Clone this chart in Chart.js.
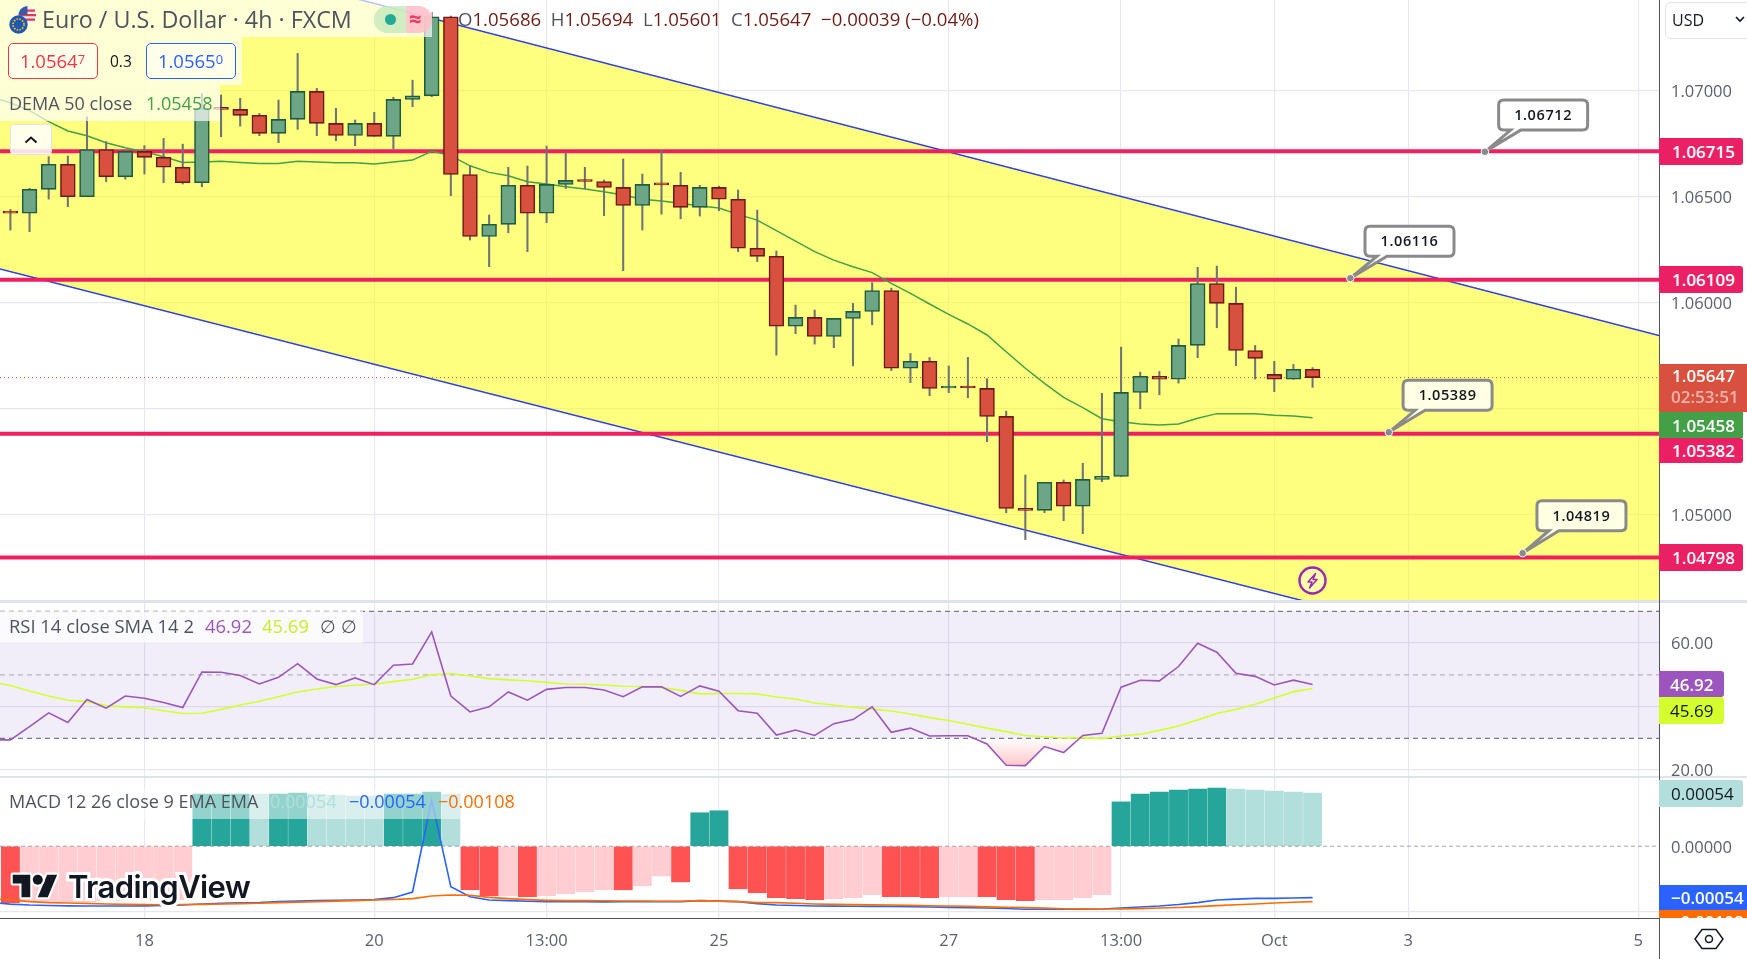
<!DOCTYPE html>
<html><head><meta charset="utf-8">
<script src="https://cdn.jsdelivr.net/npm/chart.js@4"></script>
<style>
html,body{margin:0;padding:0;background:#fff;overflow:hidden}
#root{position:relative;width:1747px;height:959px;overflow:hidden;font-family:"Open Sans",sans-serif}
canvas{position:absolute;left:0}
.a{position:absolute;white-space:nowrap}
.bg{position:absolute;background:rgba(255,255,255,.68)}
.badge{position:absolute;left:1659px;color:#fff;font-size:17px;font-weight:600;padding-left:13px;box-sizing:border-box;display:flex;align-items:center;border-radius:0 3px 3px 0}
.leg{color:#50535e;font-size:18px;line-height:22px}
sup.s{font-size:70%;vertical-align:baseline;position:relative;top:-4px}
.l{color:#50535e}.v{color:#6e1d15}
</style></head>
<body><div id="root">
<canvas id="cMain" width="1747" height="600" style="top:0"></canvas>
<canvas id="cRsi" width="1747" height="176" style="top:601px"></canvas>
<canvas id="cMacd" width="1747" height="182" style="top:777px"></canvas>

<!-- pane separators and axis borders -->
<div class="a" style="left:0;top:600px;width:1747px;height:2.5px;background:#e0e3eb"></div>
<div class="a" style="left:0;top:776px;width:1747px;height:1.5px;background:#e0e3eb"></div>
<div class="a" style="left:0;top:917.5px;width:1659px;height:1.5px;background:#50535e"></div>
<div class="a" style="left:1658.5px;top:0;width:1.5px;height:959px;background:#50535e"></div>

<!-- main legend -->
<div class="bg" style="left:0;top:0;width:432px;height:37px"></div>
<div class="bg" style="left:0;top:37px;width:242px;height:48px"></div>
<div class="bg" style="left:0;top:85px;width:220px;height:36px"></div>
<svg class="a" style="left:8px;top:5px" width="30" height="30" viewBox="0 0 30 30">
 <circle cx="19.5" cy="10" r="9" fill="#f4f4f8"/><path d="M12 4.5h15v2.2H12zM11 9h17v2.2H11zM12 13.5h15v2.2H12z" fill="#e8394a"/><path d="M10.5 10a9 9 0 0 1 9-9v9z" fill="#3c5aa8"/>
 <circle cx="10.5" cy="19.5" r="9.2" fill="#2257b0"/><circle cx="10.5" cy="19.5" r="5.5" fill="none" stroke="#f5c518" stroke-width="1.6" stroke-dasharray="1.6 1.3"/>
</svg>
<div class="a" id="title" style="left:42px;top:5px;font-size:23.3px;line-height:28px;color:#50535e">Euro / U.S. Dollar · 4h · FXCM</div>
<div class="a" style="left:374px;top:6px;width:58px;height:27px;border-radius:13px;background:linear-gradient(90deg,rgba(200,235,190,.85) 0,rgba(200,235,190,.85) 55%,rgba(255,190,200,.85) 55%,rgba(255,190,200,.85) 100%)"></div>
<div class="a" style="left:384.5px;top:13.5px;width:11px;height:11px;border-radius:50%;background:#22ab94"></div>
<div class="a" style="left:409px;top:3px;font-size:22px;font-weight:700;color:#f23668;line-height:30px">≈</div>
<div class="a" id="ohlc" style="left:458px;top:6px;font-size:18.6px;line-height:26px"><span class="l">O</span><span class="v">1.05686</span>&nbsp; <span class="l">H</span><span class="v">1.05694</span>&nbsp; <span class="l">L</span><span class="v">1.05601</span>&nbsp; <span class="l">C</span><span class="v">1.05647</span>&nbsp; <span class="v">−0.00039 (−0.04%)</span></div>
<div class="a" style="left:7.5px;top:43px;width:90px;height:35.5px;box-sizing:border-box;border:1.2px solid #f23645;border-radius:5px;color:#f23645;font-size:18.5px;line-height:33px;text-align:center;background:rgba(255,255,255,.5)">1.0564<sup class="s">7</sup></div>
<div class="a" style="left:110px;top:48px;font-size:15.5px;line-height:26px;color:#131722">0.3</div>
<div class="a" style="left:145.5px;top:43px;width:90px;height:35.5px;box-sizing:border-box;border:1.2px solid #2962ff;border-radius:5px;color:#2962ff;font-size:18.5px;line-height:33px;text-align:center;background:rgba(255,255,255,.5)">1.0565<sup class="s">0</sup></div>
<div class="a leg" style="left:9px;top:92px">DEMA 50 close</div>
<div class="a leg" style="left:146px;top:92px;color:#43a047">1.05458</div>
<div class="a" style="left:9.5px;top:124px;width:42px;height:31px;box-sizing:border-box;border:1px solid #e0e3eb;border-radius:4px;background:rgba(255,255,255,.85)">
 <svg width="40" height="29" style="position:absolute;left:0;top:0"><path d="M14.5 17.5 20 12.5 25.5 17.5" fill="none" stroke="#131722" stroke-width="2"/></svg></div>

<!-- callouts -->
<svg class="a" style="left:0;top:0" width="1659" height="600" font-family="Open Sans" font-size="14.5" font-weight="600" fill="#131722" text-anchor="middle">
 <g id="callouts"></g>
</svg>
<!-- lightning -->
<svg class="a" style="left:1297px;top:565px" width="31" height="31"><circle cx="15.5" cy="15.5" r="13" fill="rgba(255,255,255,.35)" stroke="#9c27b0" stroke-width="2.4"/><path d="M18.5 8.5 11 17h4l-2.5 6 7.5-8.5h-4z" fill="none" stroke="#9c27b0" stroke-width="1.5" stroke-linejoin="round"/></svg>

<!-- RSI legend -->
<div class="bg" style="left:0;top:611px;width:363px;height:32px"></div>
<div class="a leg" style="left:9px;top:615px;font-size:18.4px">RSI 14 close SMA 14 2</div>
<div class="a leg" style="left:205px;top:615px;color:#9c55bf;font-size:18.4px">46.92</div>
<div class="a leg" style="left:262px;top:615px;color:#c6ee2c;font-size:18.4px">45.69</div>
<div class="a leg" style="left:320px;top:615px;color:#50535e">∅ ∅</div>

<!-- MACD legend -->
<div class="bg" style="left:0;top:790px;width:460px;height:29px;background:rgba(255,255,255,.5)"></div>
<div class="a leg" style="left:9px;top:790px">MACD 12 26 close 9 EMA EMA</div>
<div class="a leg" style="left:270px;top:790px;color:#b2dfdb">0.00054</div>
<div class="a leg" style="left:349px;top:790px;color:#2962ff">−0.00054</div>
<div class="a leg" style="left:438px;top:790px;color:#ff6d00">−0.00108</div>

<!-- watermark logo -->
<svg class="a" style="left:10px;top:871px;overflow:visible" width="50" height="33" viewBox="-2.2 1.2 40 26.1"><g fill="#131722" stroke="#fff" stroke-width="3.4" paint-order="stroke fill" stroke-linejoin="round"><path d="M14 22H7V11H0V4h14v18zM28 22h-8l7.5-18h8L28 22z"/><circle cx="20" cy="8" r="4"/></g></svg>
<div class="a" id="logo" style="left:68px;top:866px;font-family:Inter,sans-serif;font-weight:600;font-size:31px;line-height:42px;letter-spacing:-.6px;color:#131722;-webkit-text-stroke:6px #fff;paint-order:stroke fill">TradingView</div>

<!-- price axis badges -->
<div class="a" style="left:1665px;top:2px;width:90px;height:37px;box-sizing:border-box;border:1px solid #e0e3eb;border-radius:6px;font-size:16px;line-height:35px;color:#131722;padding-left:6px">USD</div>
<svg class="a" style="left:1735px;top:14px" width="10" height="10"><path d="M1 3 5 7 9 3" fill="none" stroke="#131722" stroke-width="1.6"/></svg>
<div class="badge" style="top:138px;width:84px;height:27px;background:#eb1f63">1.06715</div>
<div class="badge" style="top:266px;width:84px;height:27px;background:#eb1f63">1.06109</div>
<div class="badge" style="top:438px;width:84px;height:25px;background:#eb1f63">1.05382</div>
<div class="badge" style="top:544px;width:84px;height:27px;background:#eb1f63">1.04798</div>
<div class="badge" style="top:412px;width:84px;height:26px;background:#43a047;border-radius:0">1.05458</div>
<div class="a" style="left:1659px;top:364px;width:88px;height:48px;background:#d8513f;color:#fff;font-size:17px;font-weight:600;padding-left:13px;box-sizing:border-box;line-height:24px">1.05647<br><span style="color:#f5b3aa;position:relative;top:-3px;left:-1px">02:53:51</span></div>
<div class="badge" style="top:671px;width:65px;height:26px;background:#9c55bf;padding-left:11px">46.92</div>
<div class="badge" style="top:697px;width:65px;height:27px;background:#d4ff2f;color:#131722;padding-left:11px;font-weight:500">45.69</div>
<div class="badge" style="top:780px;width:84px;height:27px;background:#b2dfdb;color:#131722;padding-left:12px;font-weight:500">0.00054</div>
<div class="badge" style="top:885px;width:88px;height:25px;background:#2962ff;padding-left:12px;border-radius:0">−0.00054</div>
<div class="a" style="left:1659px;top:910px;width:88px;height:8px;background:#ff6d00;overflow:hidden;color:#fff;font-size:17px;font-weight:600;padding-left:12px;box-sizing:border-box;line-height:24px">−0.00108</div>
<svg class="a" style="left:1693px;top:924px" width="32" height="30"><path d="M9 5.5h14l7 9.5-7 9.5H9L2 15z" fill="none" stroke="#131722" stroke-width="1.5"/><circle cx="16" cy="15" r="3.5" fill="none" stroke="#131722" stroke-width="1.5"/></svg>
</div>

<script>
// ---------- time axis ----------
const tickBars   = [7, 19, 28, 37, 49, 58, 66, 73, 85];
const tickLabels = ['18', '20', '13:00', '25', '27', '13:00', 'Oct', '3', '5'];
const xFirst = -0.543, xLast = 86.09;

// ---------- candles (bar 0 .. 68) ----------
const opens = [1.06425,1.06422,1.06535,1.06653,1.06500,1.06723,1.06594,1.06714,1.06686,1.06639,1.06566,1.06921,1.06912,1.06884,1.06799,1.06865,1.06997,1.06846,1.06789,1.06846,1.06785,1.06959,1.06976,1.07349,1.06605,1.06313,1.06370,1.06554,1.06422,1.06558,1.06577,1.06572,1.06544,1.06459,1.06558,1.06554,1.06450,1.06544,1.06488,1.06257,1.06219,1.05889,1.05931,1.05841,1.05926,1.05959,1.06058,1.05691,1.05724,1.05598,1.05600,1.05596,1.05464,1.05030,1.05021,1.05153,1.05040,1.05167,1.05181,1.05577,1.05653,1.05639,1.05799,1.06091,1.05997,1.05775,1.05662,1.05639,1.05686];
const highs = [1.06440,1.06540,1.06689,1.06692,1.06877,1.06760,1.06720,1.06741,1.06775,1.06748,1.06987,1.06980,1.06964,1.06893,1.06956,1.07176,1.07011,1.06917,1.06862,1.06898,1.06969,1.07050,1.07369,1.07352,1.06646,1.06414,1.06639,1.06645,1.06739,1.06708,1.06639,1.06579,1.06678,1.06607,1.06720,1.06615,1.06554,1.06550,1.06532,1.06437,1.06244,1.05989,1.05966,1.05926,1.05997,1.06095,1.06069,1.05761,1.05742,1.05702,1.05742,1.05642,1.05489,1.05188,1.05153,1.05164,1.05243,1.05573,1.05791,1.05673,1.05676,1.05829,1.06167,1.06173,1.06073,1.05799,1.05724,1.05709,1.05694];
const lows = [1.06343,1.06335,1.06489,1.06453,1.06500,1.06571,1.06583,1.06607,1.06566,1.06560,1.06547,1.06783,1.06833,1.06788,1.06755,1.06818,1.06788,1.06764,1.06741,1.06785,1.06725,1.06925,1.06972,1.06505,1.06296,1.06170,1.06330,1.06241,1.06378,1.06539,1.06538,1.06411,1.06151,1.06343,1.06418,1.06396,1.06409,1.06434,1.06241,1.06194,1.05753,1.05854,1.05805,1.05788,1.05702,1.05896,1.05680,1.05623,1.05562,1.05576,1.05552,1.05345,1.05010,1.04883,1.05010,1.04972,1.04911,1.05156,1.05181,1.05500,1.05566,1.05621,1.05741,1.05882,1.05703,1.05640,1.05581,1.05639,1.05601];
const closes = [1.06423,1.06535,1.06653,1.06500,1.06723,1.06594,1.06714,1.06686,1.06639,1.06566,1.06917,1.06912,1.06884,1.06799,1.06865,1.06997,1.06846,1.06789,1.06846,1.06785,1.06959,1.06976,1.07349,1.06605,1.06313,1.06370,1.06554,1.06422,1.06558,1.06577,1.06572,1.06544,1.06459,1.06558,1.06556,1.06450,1.06544,1.06488,1.06257,1.06219,1.05889,1.05931,1.05841,1.05926,1.05959,1.06058,1.05691,1.05724,1.05596,1.05600,1.05598,1.05464,1.05030,1.05021,1.05153,1.05040,1.05167,1.05181,1.05577,1.05653,1.05639,1.05799,1.06091,1.05997,1.05775,1.05738,1.05639,1.05686,1.05647];

// ---------- DEMA (bar -1 .. 68) ----------
const demaValues = [1.06972,1.06943,1.06906,1.06854,1.06810,1.06788,1.06755,1.06731,1.06712,1.06689,1.06662,1.06664,1.06667,1.06662,1.06657,1.06657,1.06668,1.06664,1.06660,1.06660,1.06654,1.06664,1.06673,1.06714,1.06694,1.06646,1.06615,1.06599,1.06571,1.06560,1.06547,1.06536,1.06524,1.06508,1.06488,1.06480,1.06469,1.06456,1.06447,1.06417,1.06390,1.06340,1.06291,1.06241,1.06201,1.06170,1.06142,1.06091,1.06044,1.05994,1.05945,1.05900,1.05848,1.05769,1.05691,1.05620,1.05554,1.05505,1.05453,1.05439,1.05428,1.05423,1.05428,1.05455,1.05477,1.05477,1.05477,1.05469,1.05466,1.05458];

// ---------- drawings ----------
const channelBars  = [-0.543, 86.09];
const channelUpper = [1.07868, 1.05846];
const channelLower = [1.06159, 1.04167];
const levelPrices  = [1.06715, 1.06109, 1.05382, 1.04798];
const lastPrice    = 1.05647;
const noteBars     = [77.0, 69.97, 71.98, 78.97];
const notePrices   = [1.06712, 1.06116, 1.05389, 1.04819];

// ---------- RSI (bar -1 .. 68) ----------
const rsiValues = [29.5,29.5,33.7,38.0,35.0,42.2,39.5,43.3,42.6,41.3,39.7,50.9,50.8,49.8,47.1,49.2,53.5,48.7,46.9,49.0,46.9,53.0,53.4,63.5,43.3,38.3,39.9,44.6,42.0,45.4,46.0,46.0,45.2,43.1,46.2,46.2,43.2,46.5,44.8,38.7,37.9,31.0,32.6,30.9,34.6,35.9,39.9,31.9,33.2,30.7,30.8,30.8,28.2,21.5,21.4,27.4,25.5,30.9,31.6,46.1,48.3,48.1,52.6,59.9,57.1,50.5,49.5,46.8,48.3,46.92];
const rsiAverage = [47.8,46.6,44.9,43.3,41.97,41.55,40.3,39.9,39.6,38.7,37.8,37.9,39.1,40.5,41.65,43.1,44.6,45.5,46.3,46.7,47.1,47.85,48.6,50.0,50.4,49.6,48.8,48.4,48.1,47.6,47.1,47.0,46.8,46.4,46.3,46.0,45.1,44.0,44.1,44.1,44.0,43.0,42.4,41.1,40.5,39.8,39.2,38.6,37.66,36.5,35.6,34.4,33.2,32.1,30.9,30.5,30.1,30.2,29.9,30.7,31.3,32.5,33.9,35.8,37.8,39.1,40.7,42.7,44.7,45.69];
const rsiTicks = [60, 40, 20];
const rsiBands = [70, 50, 30];

// ---------- MACD ----------
const histValues = [-0.00057,-0.00056,-0.00056,-0.00056,-0.00056,-0.00055,-0.00055,-0.00055,-0.00055,-0.00054,0.00053,0.00053,0.00053,0.00053,0.00053,0.00054,0.00053,0.00052,0.00051,0.00051,0.00053,0.00053,0.00055,0.00053,-0.00044,-0.00050,-0.00050,-0.00051,-0.00050,-0.00048,-0.00046,-0.00044,-0.00044,-0.00040,-0.00030,-0.00036,0.00034,0.00036,-0.00043,-0.00047,-0.00052,-0.00053,-0.00054,-0.00053,-0.00052,-0.00049,-0.00051,-0.00051,-0.00052,-0.00051,-0.00051,-0.00051,-0.00054,-0.00055,-0.00054,-0.00054,-0.00052,-0.00049,0.00045,0.00053,0.00055,0.00057,0.00058,0.00059,0.00058,0.00057,0.00056,0.00055,0.00054];
const histFadedBars = [1,2,3,4,5,6,7,8,9,13,16,17,18,19,23,26,28,29,30,31,33,34,43,44,45,49,50,54,55,56,57,64,65,66,67,68];
const macdLine = [-0.000570,-0.000585,-0.000595,-0.000600,-0.000603,-0.000605,-0.000605,-0.000605,-0.000603,-0.000600,-0.000594,-0.000584,-0.000578,-0.000572,-0.000570,-0.000560,-0.000555,-0.000550,-0.000547,-0.000544,-0.000540,-0.000520,-0.000463,0.000469,-0.000410,-0.000510,-0.000544,-0.000550,-0.000557,-0.000560,-0.000560,-0.000560,-0.000563,-0.000560,-0.000560,-0.000560,-0.000560,-0.000550,-0.000555,-0.000560,-0.000580,-0.000594,-0.000600,-0.000605,-0.000606,-0.000607,-0.000608,-0.000608,-0.000611,-0.000615,-0.000618,-0.000621,-0.000625,-0.000630,-0.000638,-0.000638,-0.000638,-0.000637,-0.000635,-0.000625,-0.000615,-0.000605,-0.000590,-0.000570,-0.000544,-0.000535,-0.000527,-0.000527,-0.000524,-0.000520];
const signalLine = [-0.000532,-0.000540,-0.000560,-0.000570,-0.000574,-0.000578,-0.000584,-0.000588,-0.000591,-0.000592,-0.000590,-0.000588,-0.000584,-0.000580,-0.000576,-0.000570,-0.000565,-0.000560,-0.000555,-0.000550,-0.000544,-0.000538,-0.000530,-0.000503,-0.000493,-0.000496,-0.000517,-0.000530,-0.000540,-0.000547,-0.000550,-0.000550,-0.000552,-0.000554,-0.000554,-0.000557,-0.000557,-0.000550,-0.000555,-0.000560,-0.000570,-0.000570,-0.000577,-0.000584,-0.000588,-0.000591,-0.000593,-0.000594,-0.000598,-0.000602,-0.000605,-0.000608,-0.000613,-0.000617,-0.000621,-0.000626,-0.000632,-0.000634,-0.000635,-0.000635,-0.000631,-0.000625,-0.000620,-0.000611,-0.000601,-0.000592,-0.000584,-0.000574,-0.000567,-0.000560];
const macdTicks = [0, -0.00066];

// ---------- price axis ----------
const priceTicks = [1.07, 1.065, 1.06, 1.055, 1.05];

// ---------- setup ----------
Chart.defaults.font.family = '"Open Sans", sans-serif';
Chart.defaults.animation = false;
const GRID = '#e6e8ee', AXT = '#5d606b';
const series = (vals, first) => vals.map((y, i) => ({x: i + first, y}));
const span = (y) => [{x: xFirst, y}, {x: xLast, y}];
const lineDs = (o) => Object.assign({type:'line', pointRadius:0, borderWidth:1.5, tension:0, fill:false}, o);
const noPad = a => { a.paddingTop = a.paddingBottom = a.paddingLeft = a.paddingRight = 0; };

function xScale(showLabels) {
  return {
    type:'linear', min:xFirst, max:xLast, offset:false,
    afterBuildTicks: a => { a.ticks = tickBars.map(value => ({value})); },
    afterFit: a => { a.height = showLabels ? 41 : 0; noPad(a); },
    grid:{color:GRID, drawTicks:false, lineWidth:1.2, offset:false}, border:{display:false},
    ticks:{display:showLabels, autoSkip:false, maxRotation:0, padding:13, color:AXT, font:{size:16.5},
      callback: v => { const k = tickBars.indexOf(v); return k < 0 ? '' : tickLabels[k]; }}
  };
}
function yScale(min, max, vals, dec, gridFn) {
  return {
    type:'linear', position:'right', min, max,
    afterBuildTicks: a => { a.ticks = vals.map(value => ({value})); },
    afterFit: a => { a.width = 88; noPad(a); },
    grid:{color: gridFn || GRID, drawTicks:false, lineWidth:1.2}, border:{display:false},
    ticks:{padding:12, labelOffset:1.5, color:AXT, font:{size:16.5}, callback: v => v.toFixed(dec)}
  };
}
const base = {responsive:false, maintainAspectRatio:false, animation:false,
  layout:{padding:0, autoPadding:false},
  plugins:{legend:{display:false}, tooltip:{enabled:false}}, events:[]};

// ---------- main pane ----------
const UP='#6ca686', DN='#d8513f', UPB='#1f5c3f', DNB='#6e1a14', WICK='#6f7276';
const isUp = i => closes[i] >= opens[i];
const chMain = new Chart(document.getElementById('cMain'), {
  type:'bar',
  data:{datasets:[
    lineDs({data:channelBars.map((x,i)=>({x,y:channelUpper[i]})), borderColor:'#2f3fe0', borderWidth:1.5, fill:'+1', backgroundColor:'rgba(255,255,0,.5)', order:10}),
    lineDs({data:channelBars.map((x,i)=>({x,y:channelLower[i]})), borderColor:'#2f3fe0', borderWidth:1.5, order:9}),
    ...levelPrices.map(p => lineDs({data:span(p), borderColor:'#ef1f60', borderWidth:4, order:8})),
    lineDs({data:span(lastPrice), borderColor:'#d8513f', borderWidth:1, borderDash:[1,3], order:7}),
    lineDs({data:series(demaValues,-1), borderColor:'#43a047', borderWidth:1.5, order:6}),
    {type:'bar', grouped:false, order:4, barThickness:1.4, backgroundColor:WICK, borderWidth:0,
      data:opens.map((_,i)=>({x:i,y:[lows[i],highs[i]]}))},
    {type:'bar', grouped:false, order:3, barThickness:14.8, minBarLength:2, borderSkipped:false, borderWidth:1.6,
      backgroundColor:opens.map((_,i)=>isUp(i)?UP:DN), borderColor:opens.map((_,i)=>isUp(i)?UPB:DNB),
      data:opens.map((o,i)=>({x:i,y:[o,closes[i]]}))}
  ]},
  options:Object.assign({}, base, {scales:{x:xScale(false), y:yScale(1.04598,1.07428,priceTicks,5)}})
});

// ---------- RSI pane ----------
const ctxR = document.getElementById('cRsi').getContext('2d');
const gradR = ctxR.createLinearGradient(0,137,0,165);
gradR.addColorStop(0,'rgba(255,82,82,0)'); gradR.addColorStop(1,'rgba(255,82,82,.32)');
new Chart(ctxR, {
  type:'line',
  data:{datasets:[
    lineDs({data:span(rsiBands[0]), borderColor:'#787b86', borderWidth:1.2, borderDash:[5,4], fill:'+1', backgroundColor:'rgba(126,87,194,.1)', order:9}),
    lineDs({data:span(rsiBands[2]), borderColor:'#787b86', borderWidth:1.2, borderDash:[5,4], order:8}),
    lineDs({data:span(rsiBands[1]), borderColor:'rgba(120,123,134,.5)', borderWidth:1.2, borderDash:[5,4], order:8}),
    lineDs({data:series(rsiAverage,-1), borderColor:'#d4ff2f', borderWidth:1.6, order:3}),
    lineDs({data:series(rsiValues,-1), borderColor:'#9c55bf', borderWidth:1.6, order:2,
      fill:{target:{value:30}, above:'rgba(0,0,0,0)', below:gradR}})
  ]},
  options:Object.assign({}, base, {scales:{x:xScale(false), y:yScale(17.81,73.24,rsiTicks,2)}})
});

// ---------- MACD pane ----------
const faded = new Set(histFadedBars);
const histColor = i => histValues[i] >= 0 ? (faded.has(i)?'#b2dfdb':'#26a69a') : (faded.has(i)?'#ffcdd2':'#ff5252');
new Chart(document.getElementById('cMacd'), {
  type:'bar',
  data:{datasets:[
    lineDs({data:span(0), borderColor:'rgba(120,123,134,.65)', borderWidth:1.1, borderDash:[4,3], order:1}),
    lineDs({data:series(signalLine,-1), borderColor:'#ff6d00', borderWidth:1.6, order:2}),
    lineDs({data:series(macdLine,-1), borderColor:'#2962ff', borderWidth:1.6, order:3}),
    {type:'bar', grouped:false, order:5, barThickness:18.2, borderWidth:0,
      backgroundColor:histValues.map((_,i)=>histColor(i)),
      data:histValues.map((y,i)=>({x:i,y}))}
  ]},
  options:Object.assign({}, base, {scales:{x:xScale(true),
    y:yScale(-0.000726,0.000702,macdTicks,5, c => c.tick && c.tick.value===0 ? 'rgba(0,0,0,0)' : GRID)}})
});

// ---------- price notes, anchored through the chart's own scales ----------
const noteBoxes = [{dx:13.7,dy:-51.7},{dx:14.7,dy:-52},{dx:14.3,dy:-52},{dx:14.3,dy:-52.4}];
const g = document.getElementById('callouts');
let out = '';
notePrices.forEach((p,i) => {
  const ax = chMain.scales.x.getPixelForValue(noteBars[i]);
  const ay = chMain.scales.y.getPixelForValue(p);
  const bx = ax + noteBoxes[i].dx, by = ay + noteBoxes[i].dy, w = 89, h = 30, r = 5;
  const a1 = bx + 12, a2 = bx + 22;
  out += `<path d="M${bx+r} ${by}H${bx+w-r}Q${bx+w} ${by} ${bx+w} ${by+r}V${by+h-r}Q${bx+w} ${by+h} ${bx+w-r} ${by+h}H${a2}L${ax} ${ay}L${a1} ${by+h}H${bx+r}Q${bx} ${by+h} ${bx} ${by+h-r}V${by+r}Q${bx} ${by} ${bx+r} ${by}Z" fill="rgba(255,255,255,.78)" stroke="#8a8a8a" stroke-width="3"/>`;
  out += `<circle cx="${ax}" cy="${ay}" r="3.8" fill="#8a8a8a" stroke="#fff" stroke-width="1"/>`;
  out += `<text x="${bx+w/2}" y="${by+20}" letter-spacing=".6">${p.toFixed(5)}</text>`;
});
g.innerHTML = out;
</script>
</body></html>
